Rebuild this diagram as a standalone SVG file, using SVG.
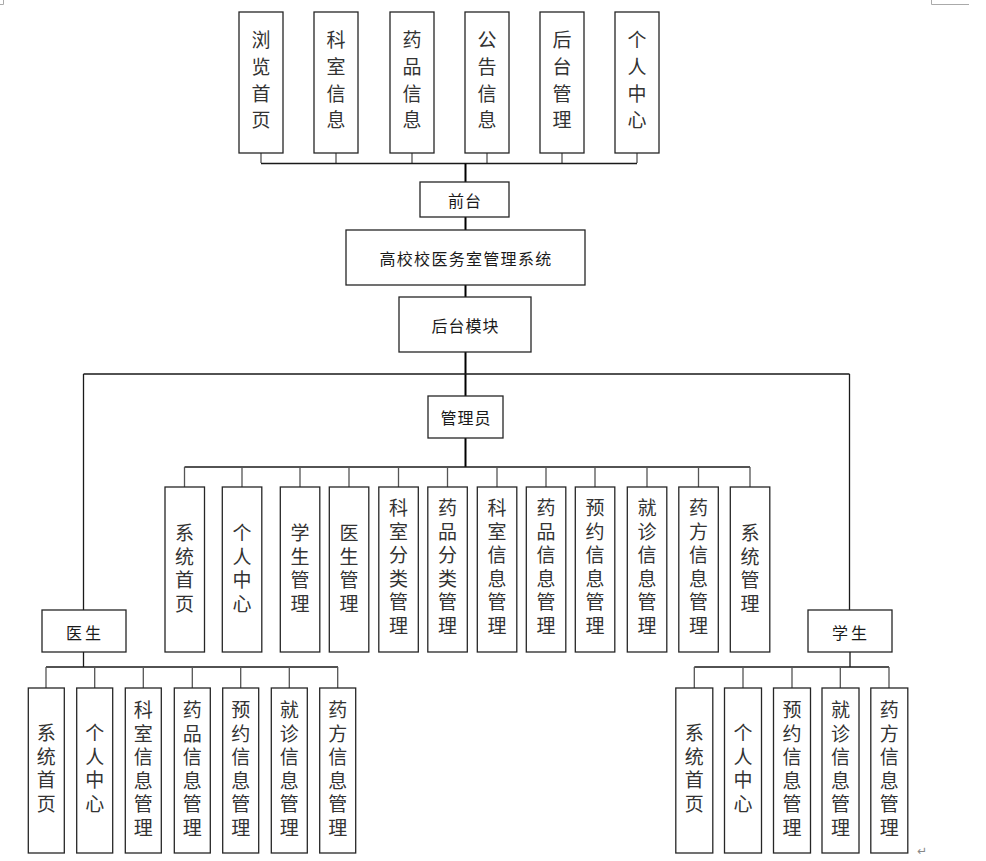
<svg xmlns="http://www.w3.org/2000/svg" width="986" height="861" viewBox="0 0 986 861">
<style>
.box{fill:#fff;stroke:#262626;stroke-width:1.3}
.ln{fill:none;stroke:#1a1a1a;stroke-width:1.3}
.tr{fill:none;stroke:#000;stroke-width:2}
.st{fill:none;stroke:#555;stroke-width:1.3}
.h{font-family:"Noto Sans CJK SC","Noto Sans",sans-serif;font-size:16px;fill:#1a1a1a;text-anchor:middle;dominant-baseline:central}
.v{font-family:"Noto Sans CJK SC","Noto Sans",sans-serif;font-size:19px;fill:#333;text-anchor:middle;writing-mode:vertical-rl;text-orientation:upright;letter-spacing:4.5px}
.vt{letter-spacing:7.7px}
.mk{fill:none;stroke:#aaa;stroke-width:1}
</style>
<rect width="986" height="861" fill="#fff"/>
<path class="mk" d="M0,4.5H3.5V0M931.5,0V4.5H969"/>
<g id="connectors">
<path class="st" d="M261,153V163M336,153V163M412,153V163M487,153V163M562,153V163M637,153V163"/>
<path class="ln" d="M261,163.5H637"/>
<path class="tr" d="M465.5,163.5V182M465.5,217V230M465.5,285V297M465.5,352V396"/>
<path class="ln" d="M83.5,374H849.5M83.5,374V610M849.5,374V610"/>
<path class="tr" d="M465.5,438V467"/>
<path class="ln" d="M184.5,467H750"/>
<path class="st" d="M184.5,467V487M242,467V487M300,467V487M349,467V487M398.5,467V487M447.5,467V487M497,467V487M546,467V487M595,467V487M647,467V487M698.5,467V487M750,467V487"/>
<path class="ln" d="M83.5,652V667M46,667H338"/>
<path class="st" d="M46,667V688M94.7,667V688M143.3,667V688M192.3,667V688M240.7,667V688M289.3,667V688M337.7,667V688"/>
<path class="ln" d="M850,652V667M694.3,667H889"/>
<path class="st" d="M694.3,667V688M743,667V688M792,667V688M840.3,667V688M889,667V688"/>
</g>
<g id="n-browse"><rect class="box" x="239" y="12" width="44" height="141"/><text class="v vt" x="261" y="83.8">浏览首页</text></g>
<g id="n-dept"><rect class="box" x="314" y="12" width="44" height="141"/><text class="v vt" x="336" y="83.8">科室信息</text></g>
<g id="n-drug"><rect class="box" x="390" y="12" width="44" height="141"/><text class="v vt" x="412" y="83.8">药品信息</text></g>
<g id="n-notice"><rect class="box" x="465" y="12" width="44" height="141"/><text class="v vt" x="487" y="83.8">公告信息</text></g>
<g id="n-backend"><rect class="box" x="540" y="12" width="44" height="141"/><text class="v vt" x="562" y="83.8">后台管理</text></g>
<g id="n-personal"><rect class="box" x="615" y="12" width="44" height="141"/><text class="v vt" x="637" y="83.8">个人中心</text></g>
<g id="n-front"><rect class="box" x="420" y="182" width="89" height="35"/><text class="h" x="465" y="200" letter-spacing="1">前台</text></g>
<g id="n-system"><rect class="box" x="346" y="230" width="239" height="55"/><text class="h" x="466" y="258" letter-spacing="1.3">高校校医务室管理系统</text></g>
<g id="n-backmod"><rect class="box" x="399" y="297" width="132" height="55"/><text class="h" x="465.5" y="325" letter-spacing="1">后台模块</text></g>
<g id="n-admin"><rect class="box" x="428" y="396" width="75" height="42"/><text class="h" x="466" y="417" letter-spacing="1">管理员</text></g>
<g id="n-doctor"><rect class="box" x="42" y="610" width="84" height="42"/><text class="h" x="85" y="631.5" letter-spacing="3">医生</text></g>
<g id="n-student"><rect class="box" x="808" y="610" width="84" height="42"/><text class="h" x="851" y="631.5" letter-spacing="3">学生</text></g>
<g id="a-home"><rect class="box" x="165" y="487" width="39.5" height="165"/><text class="v" x="184.5" y="570.5">系统首页</text></g>
<g id="a-personal"><rect class="box" x="222.3" y="487" width="39.5" height="165"/><text class="v" x="242" y="570.5">个人中心</text></g>
<g id="a-student"><rect class="box" x="280.3" y="487" width="39.5" height="165"/><text class="v" x="300" y="570.5">学生管理</text></g>
<g id="a-doctor"><rect class="box" x="329.3" y="487" width="39.5" height="165"/><text class="v" x="349" y="570.5">医生管理</text></g>
<g id="a-deptcat"><rect class="box" x="378.8" y="487" width="39.5" height="165"/><text class="v" x="398.5" y="569">科室分类管理</text></g>
<g id="a-drugcat"><rect class="box" x="427.8" y="487" width="39.5" height="165"/><text class="v" x="447.5" y="569">药品分类管理</text></g>
<g id="a-deptinfo"><rect class="box" x="477.3" y="487" width="39.5" height="165"/><text class="v" x="497" y="569">科室信息管理</text></g>
<g id="a-druginfo"><rect class="box" x="526.3" y="487" width="39.5" height="165"/><text class="v" x="546" y="569">药品信息管理</text></g>
<g id="a-appoint"><rect class="box" x="575.3" y="487" width="39.5" height="165"/><text class="v" x="595" y="569">预约信息管理</text></g>
<g id="a-visit"><rect class="box" x="627.3" y="487" width="39.5" height="165"/><text class="v" x="647" y="569">就诊信息管理</text></g>
<g id="a-presc"><rect class="box" x="678.8" y="487" width="39.5" height="165"/><text class="v" x="698.5" y="569">药方信息管理</text></g>
<g id="a-sysmgmt"><rect class="box" x="730.3" y="487" width="39.5" height="165"/><text class="v" x="750" y="570.5">系统管理</text></g>
<g id="d-home"><rect class="box" x="28.3" y="688" width="36" height="165"/><text class="v" x="46.3" y="770.3">系统首页</text></g>
<g id="d-personal"><rect class="box" x="76.7" y="688" width="36" height="165"/><text class="v" x="94.7" y="770.3">个人中心</text></g>
<g id="d-dept"><rect class="box" x="125.3" y="688" width="36" height="165"/><text class="v" x="143.3" y="771">科室信息管理</text></g>
<g id="d-drug"><rect class="box" x="174.3" y="688" width="36" height="165"/><text class="v" x="192.3" y="771">药品信息管理</text></g>
<g id="d-appoint"><rect class="box" x="222.7" y="688" width="36" height="165"/><text class="v" x="240.7" y="771">预约信息管理</text></g>
<g id="d-visit"><rect class="box" x="271.3" y="688" width="36" height="165"/><text class="v" x="289.3" y="771">就诊信息管理</text></g>
<g id="d-presc"><rect class="box" x="319.7" y="688" width="36" height="165"/><text class="v" x="337.7" y="771">药方信息管理</text></g>
<g id="s-home"><rect class="box" x="675.8" y="688" width="37" height="165"/><text class="v" x="694.3" y="770.3">系统首页</text></g>
<g id="s-personal"><rect class="box" x="724.5" y="688" width="37" height="165"/><text class="v" x="743" y="770.3">个人中心</text></g>
<g id="s-appoint"><rect class="box" x="773.5" y="688" width="37" height="165"/><text class="v" x="792" y="771">预约信息管理</text></g>
<g id="s-visit"><rect class="box" x="822" y="688" width="37" height="165"/><text class="v" x="840.5" y="771">就诊信息管理</text></g>
<g id="s-presc"><rect class="box" x="870.8" y="688" width="37" height="165"/><text class="v" x="889.3" y="771">药方信息管理</text></g>
<text x="922" y="851" font-family="DejaVu Sans,sans-serif" font-size="12" fill="#888" text-anchor="middle" dominant-baseline="central">↵</text>
</svg>
